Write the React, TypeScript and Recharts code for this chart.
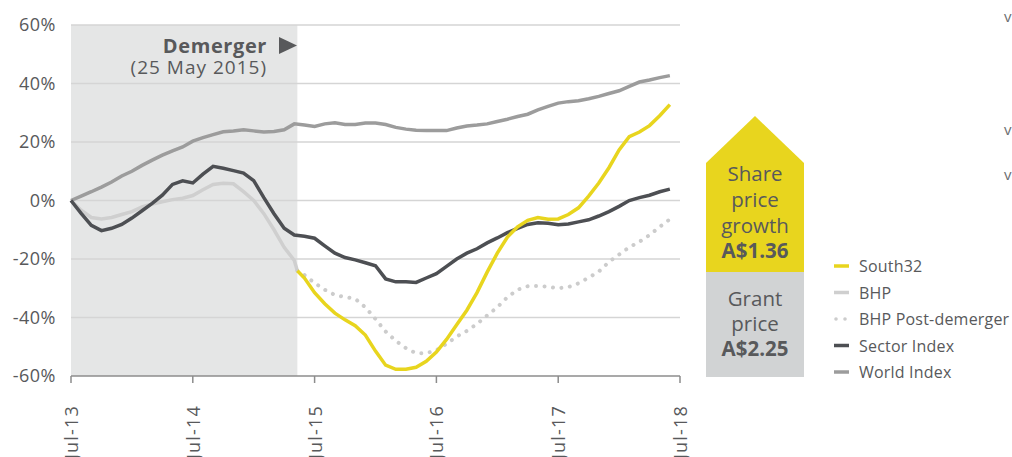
import React from "react";
import {
  ComposedChart,
  Line,
  XAxis,
  YAxis,
  ReferenceArea,
  ReferenceLine,
} from "recharts";

// Months since Jul-13 (index = month number)
const xTickMonths = [0, 12, 24, 36, 48, 60];
const xTickLabels = ["Jul-13", "Jul-14", "Jul-15", "Jul-16", "Jul-17", "Jul-18"];
const yTicks = [-60, -40, -20, 0, 20, 40, 60];
const gridLevels = [-40, -20, 0, 20, 40, 60];

const demergerMonth = 22.3; // 25 May 2015
const demergerValue = -24;

// Monthly values (%), month 0..59
const worldIndex = [
  0, 1.5, 3, 4.6, 6.3, 8.4, 10, 12, 13.8, 15.5, 17, 18.3, 20.3, 21.5, 22.5,
  23.5, 23.8, 24.2, 23.8, 23.4, 23.6, 24.2, 26.2, 25.8, 25.3, 26.2, 26.6, 26,
  26, 26.5, 26.5, 26, 25, 24.4, 24, 23.9, 23.9, 23.9, 24.8, 25.5, 25.8, 26.2,
  27, 27.8, 28.7, 29.5, 31, 32.2, 33.3, 33.8, 34.1, 34.8, 35.6, 36.6, 37.5, 39,
  40.5, 41.2, 42, 42.7,
];
const sectorIndex = [
  0, -4.4, -8.5, -10.3, -9.5, -8.2, -6, -3.5, -1, 1.8, 5.5, 6.7, 6, 9, 11.7, 11,
  10.2, 9.4, 6.8, 1, -4.5, -9.5, -11.8, -12.2, -12.9, -15.5, -18, -19.5, -20.3,
  -21.3, -22.3, -26.8, -27.8, -27.8, -28, -26.5, -25, -22.5, -20, -18, -16.5,
  -14.5, -12.8, -11, -9.5, -8.2, -7.6, -7.8, -8.3, -8, -7.3, -6.6, -5.3, -3.8,
  -2, 0, 1, 1.8, 3, 3.9,
];
// BHP up to demerger, month 0..22
const bhp = [
  0, -3.3, -5.8, -6.3, -5.8, -4.8, -3.8, -2.2, -1.2, -0.4, 0.3, 0.8, 1.7, 3.7,
  5.5, 5.9, 5.7, 3, 0, -4.5, -10, -16, -20.5,
];
// After demerger, month 23..59
const south32 = [
  -26.5, -31.5, -35.3, -38.5, -40.8, -42.8, -46, -51.5, -56.3, -57.7, -57.7, -57,
  -55, -51.8, -47.5, -42.5, -37.5, -31.5, -24.5, -18, -12.5, -9, -6.8, -5.8,
  -6.4, -6.3, -4.8, -2.5, 1.5, 6, 11.2, 17.3, 21.8, 23.4, 25.6, 29, 32.8,
];
const bhpPost = [
  -25.5, -28.2, -30.5, -32.3, -33, -33.6, -36.5, -40.5, -44.8, -48, -50.5,
  -52.2, -52.2, -51.2, -49, -46.5, -44.6, -42.2, -39.3, -36.5, -33, -30.5,
  -29.3, -29.2, -29.5, -30, -29.6, -28.3, -26.4, -24.3, -21, -18.5, -16, -14.1,
  -11.8, -9, -6.4,
];
const postStart = 23;

const COLORS = {
  south32: "#E8D51E",
  bhp: "#CFCFCF",
  post: "#CCCCCC",
  sector: "#4D4F53",
  world: "#9C9C9C",
  text: "#58595B",
  shade: "#E5E6E6",
  grid: "#D5D5D5",
  axis: "#8C8C8C",
};

const legendItems = [
  { label: "South32", color: COLORS.south32, dotted: false },
  { label: "BHP", color: COLORS.bhp, dotted: false },
  { label: "BHP Post-demerger", color: COLORS.post, dotted: true },
  { label: "Sector Index", color: COLORS.sector, dotted: false },
  { label: "World Index", color: COLORS.world, dotted: false },
];

type Row = {
  x: number;
  world?: number;
  sector?: number;
  bhp?: number;
  south32?: number;
  post?: number;
};

const rows: Row[] = [];
worldIndex.forEach((v, i) => {
  const r: Row = { x: i, world: v, sector: sectorIndex[i] };
  if (i < bhp.length) r.bhp = bhp[i];
  if (i >= postStart) {
    r.south32 = south32[i - postStart];
    r.post = bhpPost[i - postStart];
  }
  rows.push(r);
});
rows.push({ x: demergerMonth, bhp: demergerValue, south32: demergerValue, post: demergerValue });
rows.sort((a, b) => a.x - b.x);

const FONT = "'Open Sans', 'DejaVu Sans', sans-serif";

const XTick = (props: any) => {
  const { x, y, payload } = props;
  const idx = xTickMonths.indexOf(payload.value);
  const ty = y + 20;
  return (
    <text
      x={x}
      y={ty}
      transform={`rotate(-90, ${x}, ${ty})`}
      textAnchor="end"
      dominantBaseline="central"
      fill={COLORS.text}
      fontSize={18}
      fontFamily={FONT}
      letterSpacing={1.2}
    >
      {xTickLabels[idx]}
    </text>
  );
};

export default function App() {
  return (
    <div style={{ position: "relative", width: 1012, height: 457, background: "#fff", fontFamily: FONT, overflow: "hidden" }}>
      <style>{"body{margin:0}"}</style>
      <ComposedChart
        width={1012}
        height={457}
        data={rows}
        margin={{ top: 25, right: 332, bottom: 0, left: 0 }}
      >
        <XAxis
          dataKey="x"
          type="number"
          domain={[0, 60]}
          ticks={xTickMonths}
          height={81}
          axisLine={{ stroke: COLORS.axis, strokeWidth: 1.5 }}
          tickLine={{ stroke: COLORS.axis, strokeWidth: 1.5 }}
          tickSize={7}
          tick={<XTick />}
          interval={0}
        />
        <YAxis
          type="number"
          domain={[-60, 60]}
          ticks={yTicks}
          width={71}
          axisLine={false}
          tickLine={false}
          tickSize={0}
          tickMargin={15}
          tickFormatter={(v: number) => `${v}%`}
          tick={{ fill: COLORS.text, fontSize: 18, fontFamily: FONT, letterSpacing: 0.5 }}
          interval={0}
        />
        <ReferenceArea
          x1={0}
          x2={demergerMonth}
          y1={-60}
          y2={60}
          fill={COLORS.shade}
          fillOpacity={1}
          stroke="none"
        />
        {gridLevels.map((g) => (
          <ReferenceLine key={g} y={g} stroke={COLORS.grid} strokeWidth={1.5} />
        ))}
        <Line dataKey="bhp" stroke={COLORS.bhp} strokeWidth={3.5} dot={false} activeDot={false} connectNulls isAnimationActive={false} />
        <Line dataKey="post" stroke={COLORS.post} strokeWidth={4} strokeDasharray="0.01 8.5" strokeLinecap="round" dot={false} activeDot={false} connectNulls isAnimationActive={false} />
        <Line dataKey="world" stroke={COLORS.world} strokeWidth={3.5} dot={false} activeDot={false} connectNulls isAnimationActive={false} />
        <Line dataKey="sector" stroke={COLORS.sector} strokeWidth={3.5} dot={false} activeDot={false} connectNulls isAnimationActive={false} />
        <Line dataKey="south32" stroke={COLORS.south32} strokeWidth={3.5} dot={false} activeDot={false} connectNulls isAnimationActive={false} />
      </ComposedChart>

      <svg
        width={1012}
        height={457}
        style={{ position: "absolute", left: 0, top: 0, pointerEvents: "none" }}
        fontFamily={FONT}
      >
        {/* Demerger annotation */}
        <text x={267} y={53} textAnchor="end" fontSize={20} fontWeight={700} letterSpacing={0.6} fill={COLORS.text}>
          Demerger
        </text>
        <polygon points="279,37 297,45.5 279,54" fill={COLORS.text} />
        <text x={267} y={74} textAnchor="end" fontSize={19} letterSpacing={1} fill={COLORS.text}>
          (25 May 2015)
        </text>

        {/* Arrow box */}
        <polygon points="706,163 755,116 804,163 804,272 706,272" fill={COLORS.south32} />
        <rect x={706} y={272} width={98} height={105} fill="#D1D3D4" />
        <g textAnchor="middle" fill={COLORS.text} fontSize={20.5}>
          <text x={755} y={181}>Share</text>
          <text x={755} y={207}>price</text>
          <text x={755} y={233}>growth</text>
          <text x={755} y={258} fontWeight={700}>A$1.36</text>
          <text x={755} y={306}>Grant</text>
          <text x={755} y={331}>price</text>
          <text x={755} y={356} fontWeight={700}>A$2.25</text>
        </g>

        {/* Legend */}
        {legendItems.map((it, i) => {
          const cy = 266 + i * 26.5;
          return (
            <g key={it.label}>
              {it.dotted ? (
                <g fill={it.color}>
                  <circle cx={836} cy={cy} r={1.8} />
                  <circle cx={845} cy={cy} r={1.8} />
                </g>
              ) : (
                <line x1={834} x2={849} y1={cy} y2={cy} stroke={it.color} strokeWidth={3.5} />
              )}
              <text x={859} y={cy + 6} fontSize={16} letterSpacing={0.2} fill={COLORS.text}>
                {it.label}
              </text>
            </g>
          );
        })}

        {/* clipped marks at the right edge */}
        <g fontSize={15} fill="#6D6E70">
          <text x={1004} y={22}>v</text>
          <text x={1004} y={135}>v</text>
          <text x={1004} y={180}>v</text>
        </g>
      </svg>
    </div>
  );
}
